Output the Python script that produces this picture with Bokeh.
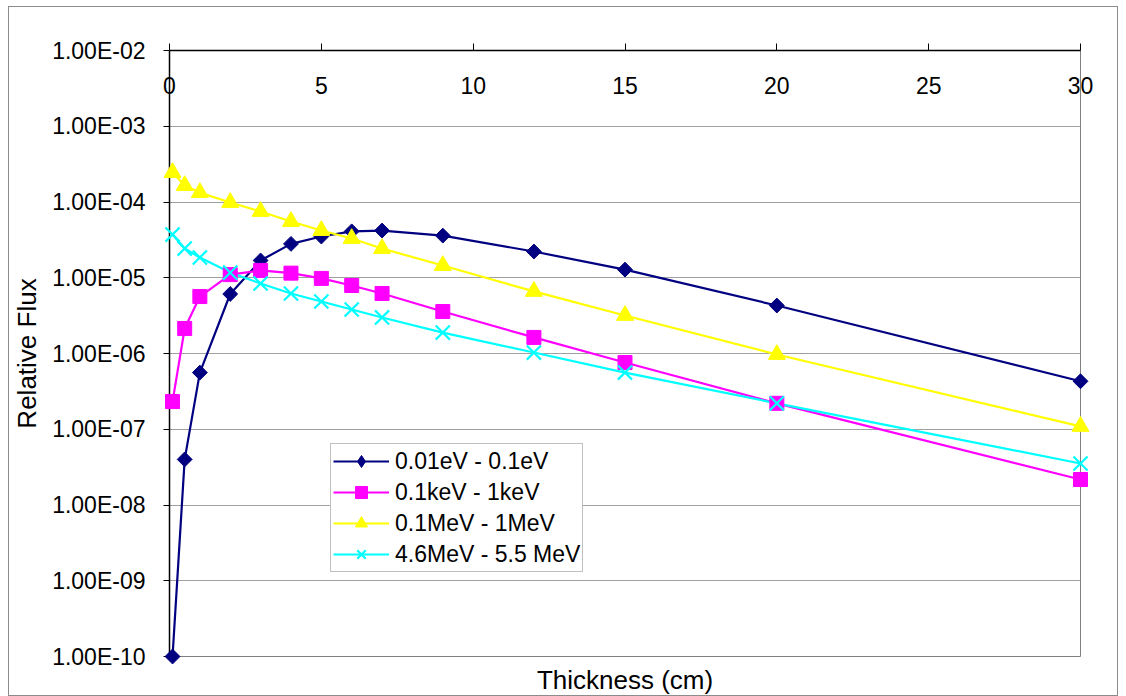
from bokeh.plotting import figure
from bokeh.models import (LinearAxis, FixedTicker, CustomJSTickFormatter, Legend,
                          LegendItem, Range1d)
from bokeh.embed import file_html
from bokeh.resources import INLINE
import math

# ---- data ----
thickness = [0.1, 0.5, 1, 2, 3, 4, 5, 6, 7, 9, 12, 15, 20, 30]
flux_thermal = [1.0e-10, 4.0e-8, 5.6e-7, 6.1e-6, 1.69e-5, 2.8e-5, 3.5e-5, 4.1e-5,
                4.2e-5, 3.6e-5, 2.22e-5, 1.28e-5, 4.3e-6, 4.3e-7]
flux_kev = [2.32e-7, 2.14e-6, 5.65e-6, 1.10e-5, 1.25e-5, 1.15e-5, 9.8e-6, 7.9e-6,
            6.2e-6, 3.58e-6, 1.63e-6, 7.6e-7, 2.2e-7, 2.17e-8]
flux_mev = [2.45e-4, 1.65e-4, 1.33e-4, 9.85e-5, 7.5e-5, 5.53e-5, 4.2e-5, 3.3e-5,
            2.43e-5, 1.45e-5, 6.6e-6, 3.18e-6, 9.7e-7, 1.09e-7]
flux_fast = [3.72e-5, 2.43e-5, 1.85e-5, 1.17e-5, 8.4e-6, 6.2e-6, 4.86e-6, 3.81e-6,
             2.99e-6, 1.89e-6, 1.03e-6, 5.6e-7, 2.2e-7, 3.53e-8]
series_labels = ["0.01eV - 0.1eV", "0.1keV - 1keV", "0.1MeV - 1MeV", "4.6MeV - 5.5 MeV"]
x_ticks = [0, 5, 10, 15, 20, 25, 30]
y_ticks = [1e-10, 1e-9, 1e-8, 1e-7, 1e-6, 1e-5, 1e-4, 1e-3, 1e-2]

FONT = "Liberation Sans"

p = figure(width=1110, height=690, y_axis_type="log", x_axis_location="above",
           x_range=Range1d(0, 30), y_range=Range1d(1e-10, 1e-2),
           output_backend="svg", toolbar_location=None,
           min_border_left=157, min_border_right=39, min_border_top=43,
           min_border_bottom=40)
p.styles = {"border": "1px solid #8c8c8c", "margin-left": "8px", "margin-top": "6px"}
p.background_fill_color = "white"
p.border_fill_color = "white"
p.outline_line_color = "#808080"
p.outline_line_width = 1

# top x axis (labels sit inside the plot, below the axis line)
xa = p.xaxis[0]
xa.ticker = FixedTicker(ticks=x_ticks, minor_ticks=[])
xa.axis_line_color = "black"
xa.axis_line_width = 1.5
xa.major_tick_out = 7
xa.major_tick_in = 0
xa.major_tick_line_color = "black"
xa.minor_tick_line_color = None
xa.major_label_standoff = -50
xa.major_label_text_font = FONT
xa.major_label_text_font_size = "23px"
xa.major_label_text_color = "black"

# left y axis
ya = p.yaxis[0]
ya.ticker = FixedTicker(ticks=y_ticks, minor_ticks=[])
ya.formatter = CustomJSTickFormatter(code="""
const s = tick.toExponential(2).split('e');
let e = parseInt(s[1]);
const sign = e < 0 ? '-' : '+';
e = Math.abs(e);
return s[0] + 'E' + sign + (e < 10 ? '0' : '') + e;
""")
ya.axis_line_color = "black"
ya.axis_line_width = 1.5
ya.major_tick_out = 6
ya.major_tick_in = 0
ya.major_tick_line_color = "black"
ya.minor_tick_line_color = None
ya.major_label_standoff = 18
ya.major_label_text_font = FONT
ya.major_label_text_font_size = "23px"
ya.major_label_text_color = "black"
ya.axis_label = "Relative Flux"
ya.axis_label_text_font = FONT
ya.axis_label_text_font_size = "26px"
ya.axis_label_text_font_style = "normal"
ya.axis_label_text_color = "black"
ya.axis_label_standoff = 7

# bottom axis only for the title
bx = LinearAxis(ticker=FixedTicker(ticks=[]), axis_label="Thickness (cm)",
                axis_line_color=None, major_tick_line_color=None,
                minor_tick_line_color=None, major_tick_out=0,
                axis_label_standoff=8, axis_label_text_font=FONT,
                axis_label_text_font_size="26px",
                axis_label_text_color="black",
                axis_label_text_font_style="normal")
p.add_layout(bx, "below")

p.xgrid.visible = False
p.ygrid.grid_line_color = "#a0a0a0"
p.ygrid.grid_line_width = 1

# (values, colour, plot marker, size, angle, marker line width, legend marker)
specs = [
    (flux_thermal, "#000080", "square", 10.5, math.pi / 4, 1, "diamond"),
    (flux_kev, "#FF00FF", "square", 14, 0, 1, "square"),
    (flux_mev, "#FFFF00", "triangle", 17, 0, 1, "triangle"),
    (flux_fast, "#00FFFF", "x", 20, 0, 2.2, "x"),
]

items = []
for (ys, col, mk, sz, ang, lw, lmk), lab in zip(specs, series_labels):
    lr = p.line(thickness, ys, line_color=col, line_width=2.2)
    leg_r = None
    if lmk != mk or ang != 0:
        # diamond drawn underneath the rotated squares (fully covered by them);
        # it supplies the legend's diamond glyph
        leg_r = p.scatter(thickness, ys, marker=lmk, size=sz, fill_color=col,
                          line_color=col, line_width=lw)
    sr = p.scatter(thickness, ys, marker=mk, size=sz, angle=ang,
                   fill_color=col, line_color=col, line_width=lw, level="overlay")
    items.append(LegendItem(label=lab, renderers=[lr, leg_r or sr]))

legend = Legend(items=items, location=(161, 84), orientation="vertical",
                label_text_font=FONT, label_text_font_size="23px",
                label_text_color="black", glyph_width=56, glyph_height=30,
                label_height=24, spacing=1, padding=2, margin=0,
                label_standoff=6, border_line_color="#808080",
                border_line_width=1, background_fill_color="white",
                background_fill_alpha=1)
p.add_layout(legend, "center")

open("out.html", "w").write(file_html(p, INLINE))
